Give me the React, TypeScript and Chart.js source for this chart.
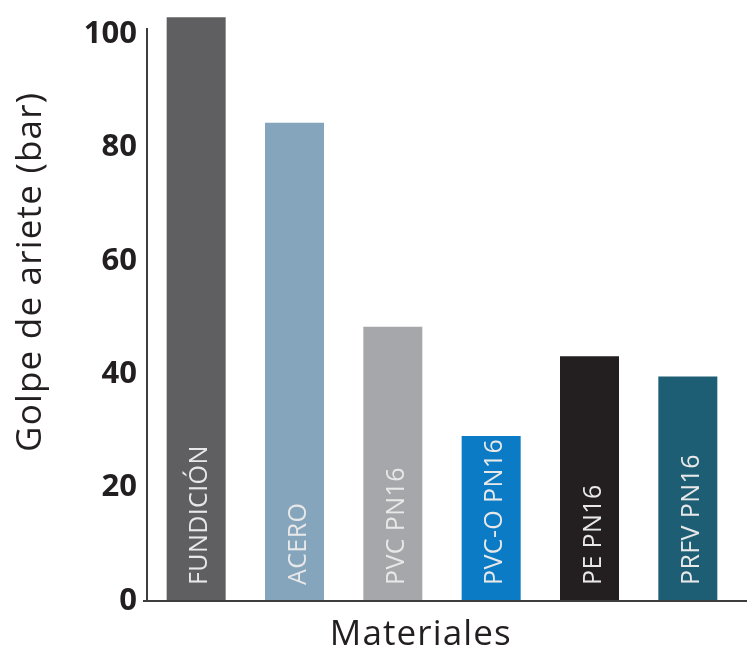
import React, { useEffect, useRef } from "react";
import { Chart, registerables } from "chart.js";

Chart.register(...registerables);

const categories = ["FUNDICIÓN", "ACERO", "PVC PN16", "PVC-O PN16", "PE PN16", "PRFV PN16"];
const values = [103, 84.4, 48.4, 29.1, 43.2, 39.6];
const barColors = ["#5f5f61", "#85a5bd", "#a6a7aa", "#0a7bc4", "#231f20", "#1d5e75"];
const yTicks = [0, 20, 40, 60, 80, 100];
const yTitle = "Golpe de ariete (bar)";
const xTitle = "Materiales";

const FONT = "'Open Sans', 'Noto Sans', sans-serif";
const AXIS_COLOR = "#3d3d3d";
const TEXT_COLOR = "#231f20";

const barLabelPlugin = {
  id: "barLabels",
  afterDatasetsDraw(chart: any) {
    const ctx = chart.ctx;
    const meta = chart.getDatasetMeta(0);
    ctx.save();
    ctx.fillStyle = "#e8e8e8";
    ctx.font = `25px ${FONT}`;
    (ctx as any).letterSpacing = "0.4px";
    ctx.textAlign = "left";
    ctx.textBaseline = "alphabetic";
    meta.data.forEach((el: any, i: number) => {
      ctx.save();
      ctx.translate(el.x + 11, el.base - 16);
      ctx.rotate(-Math.PI / 2);
      ctx.fillText(chart.data.labels[i], 0, 0);
      ctx.restore();
    });
    ctx.restore();
  },
};

const titlesPlugin = {
  id: "axisTitles",
  afterDraw(chart: any) {
    const { ctx, chartArea } = chart;
    ctx.save();
    // extended x axis line
    ctx.strokeStyle = AXIS_COLOR;
    ctx.lineWidth = 2;
    ctx.beginPath();
    ctx.moveTo(chartArea.left - 4, chartArea.bottom);
    ctx.lineTo(chart.width, chartArea.bottom);
    ctx.stroke();

    ctx.fillStyle = TEXT_COLOR;
    ctx.font = `35px ${FONT}`;
    ctx.textBaseline = "alphabetic";
    ctx.textAlign = "center";
    // x title
    (ctx as any).letterSpacing = "1.1px";
    ctx.fillText(xTitle, chartArea.left + (chartArea.right - chartArea.left) * 0.464, chart.height - 3);
    // y title
    (ctx as any).letterSpacing = "1.2px";
    ctx.save();
    ctx.translate(41, chartArea.top + (chartArea.bottom - chartArea.top) * 0.425);
    ctx.rotate(-Math.PI / 2);
    ctx.fillText(yTitle, 0, 0);
    ctx.restore();
    ctx.restore();
  },
};

export default function App() {
  const ref = useRef<HTMLCanvasElement | null>(null);
  useEffect(() => {
    document.body.style.margin = "0";
    if (!ref.current) return;
    const chart = new Chart(ref.current, {
      type: "bar",
      data: {
        labels: categories,
        datasets: [
          {
            data: values,
            backgroundColor: barColors,
            borderWidth: 0,
            barPercentage: 0.6,
            categoryPercentage: 1,
            clip: false as any,
          },
        ],
      },
      options: {
        animation: false,
        responsive: false,
        maintainAspectRatio: false,
        layout: { padding: { top: 25, right: 10, bottom: 0, left: 0 } },
        plugins: { legend: { display: false }, tooltip: { enabled: false } },
        scales: {
          x: {
            grid: { display: false, drawTicks: false },
            border: { display: true, color: AXIS_COLOR, width: 2 },
            ticks: { display: false },
            afterFit(scale: any) {
              scale.height = 47;
            },
          },
          y: {
            min: 0,
            max: 101,
            grid: { display: false, drawTicks: false },
            border: { display: true, color: AXIS_COLOR, width: 2 },
            afterBuildTicks(scale: any) {
              scale.ticks = yTicks.map((v) => ({ value: v }));
            },
            afterFit(scale: any) {
              scale.width = 147;
            },
            ticks: {
              color: TEXT_COLOR,
              padding: 10,
              font: { family: FONT, size: 31, weight: "bold" },
            },
          },
        },
      },
      plugins: [barLabelPlugin, titlesPlugin],
    });
    return () => chart.destroy();
  }, []);
  return (
    <div style={{ width: 747, height: 648 }}>
      <canvas ref={ref} width={747} height={648} style={{ display: "block" }} />
    </div>
  );
}
